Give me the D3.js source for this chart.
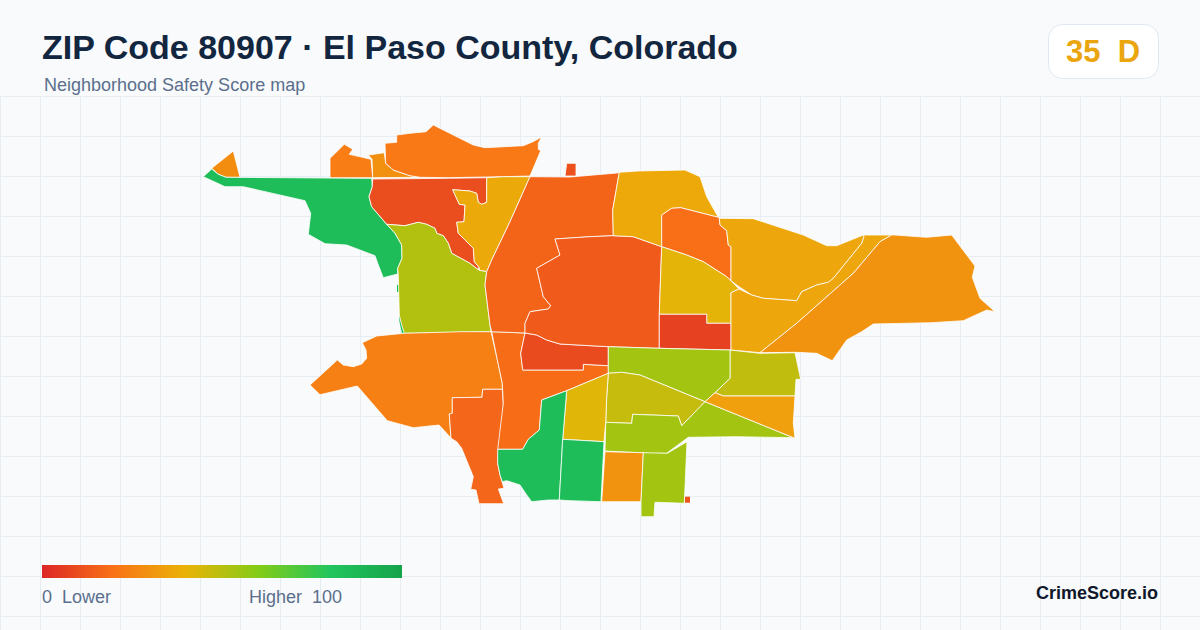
<!DOCTYPE html>
<html>
<head>
<meta charset="utf-8">
<script src="https://cdn.jsdelivr.net/npm/d3@7"></script>
<style>
  html, body { margin: 0; padding: 0; background: #f8fafc; }
  svg { display: block; font-family: "Liberation Sans", Arial, sans-serif; }
  text { white-space: pre; }
</style>
</head>
<body>
<svg id="chart" width="1200" height="630"></svg>
<script>
// score per tract, same order as tractRings
var tractScores = [28, 85, 85, 85, 23, 29, 22, 10.5, 37, 51, 24, 16.5, 18.5, 9.5, 16, 11, 13.5, 36.5, 19,
  41, 7, 36, 36, 30, 48, 54, 47, 54, 34, 42, 85, 85, 30, 54, 12];

// tract outlines in traced map units
var tractRings = [
  [[11.7,48.3],[33.3,31],[40,57.3],[26,57.3],[18.3,54.3]],
  [[3.3,56.7],[11.7,49],[18.3,54.3],[26,57.3],[171.7,58.3],[172.3,66.7],[169,76.7],[171.7,86.7],[186.7,104.3],[195,113.3],[201.7,125],[202,138.3],[197.7,148.3],[197.7,154],[183.3,157.7],[178.3,145],[175,135.7],[146.7,125],[125,123.7],[108.3,114.3],[110.7,93.3],[105,80.7],[43.3,66.7],[25,66.7]],
  [[197,165],[199,165],[199,172],[197,172]],
  [[199,194],[201.7,205],[204.3,213.3],[202,213.3],[199.5,202]],
  [[130,57.7],[130,38.3],[144.3,24.3],[152.7,29.3],[149.3,34.3],[171,39.3],[172.7,57.7]],
  [[168.3,35],[184.3,32.7],[185.7,43.3],[193.3,50],[210,55.7],[220,57.3],[172.7,57.7],[172,39.3]],
  [[185,23.3],[196.7,22.3],[196.7,15],[210,13.3],[226,11.7],[233.3,5],[273.3,25],[285,27.7],[323.3,25.7],[333,21.7],[341.7,17],[338.3,23.3],[338.3,29.3],[340.7,30.7],[330,56],[303.3,56.7],[248.3,57.7],[220,57.3],[210,55.7],[193.3,50],[185.7,43.3]],
  [[172.7,59],[248.3,58.3],[286.7,57.7],[286.7,82.3],[281.7,84.3],[278.3,82.3],[276.7,73.3],[270,71],[252.7,69.7],[259.3,84.3],[265,85],[264,101.7],[256.7,102.3],[258.3,113.3],[273.3,128.3],[274.3,141.7],[279.3,147.7],[277.3,149],[270,143.3],[251.7,133.3],[248.3,123.3],[243.3,115.7],[236.7,113.3],[235,108.3],[226.7,104.3],[218.3,102.3],[205,105.7],[186.7,104.3],[171.7,86.7],[169,76.7],[172.3,66.7]],
  [[286.7,57.7],[303.3,56.7],[330,56.7],[310,101.7],[291.7,140],[286.7,151.7],[279.3,150.3],[279.3,147.7],[274.3,141.7],[273.3,128.3],[258.3,113.3],[256.7,102.3],[264,101.7],[265,85],[259.3,84.3],[252.7,69.7],[270,71],[276.7,73.3],[278.3,82.3],[281.7,84.3],[286.7,82.3]],
  [[186.7,104.3],[205,105.7],[218.3,102.3],[226.7,104.3],[235,108.3],[236.7,113.3],[243.3,115.7],[248.3,123.3],[251.7,133.3],[270,143.3],[277.3,149],[279.3,150.3],[286.7,151.7],[285,165],[290,205],[291,211.7],[204.3,213.3],[201.7,205],[199.3,195],[198.3,155],[197.7,148.3],[202,138.3],[201.7,125],[195,113.3]],
  [[162.3,222.7],[176.7,216],[204.3,213.3],[261.7,211.7],[291,211.7],[296.7,236.7],[302.3,263.3],[302.3,269.3],[282.7,269.3],[282,277.3],[252.3,277.7],[252.3,293.3],[249.3,294],[251,318.3],[246.7,313.3],[239,305],[213.3,307.7],[187.3,300.7],[157.3,266],[120,274.7],[110,265],[137.3,240],[143.3,245],[153.3,246.7],[161.7,244],[166.7,238.3],[166,230]],
  [[252.3,277.7],[282,277.3],[282.7,269.3],[302.3,269.3],[303.3,283.3],[302.3,300],[298.3,328.3],[297.7,343.3],[300,355],[304,368.3],[298.3,369],[303.7,383.7],[279,383.7],[276,370],[270.7,369.3],[273.3,356.7],[261.7,328.3],[256.7,321.7],[251,318.3],[249.3,294],[252.3,293.3]],
  [[291.7,211.7],[325,213],[320.7,233.3],[322.7,250],[383.3,250],[383.3,244.3],[408.3,245.7],[408.3,253.3],[366.7,270.7],[341.7,280],[339.3,310],[328.3,319.3],[322.7,329.3],[297.7,329.3],[303.3,283.3],[302.3,263.3],[296.7,236.7]],
  [[325,213],[336.7,215],[346.7,220],[360,224],[408.3,226.7],[408.3,245.7],[383.3,244.3],[383.3,250],[322.7,250],[320.7,233.3]],
  [[330,56.7],[370,57],[417,53],[419.3,52.3],[412.7,90],[413.3,115.7],[390,116.7],[355,119],[360,135],[336.7,148.3],[343.3,176.7],[350.7,185.7],[348.3,189],[330,191.7],[325,203.3],[325,213],[291.7,211.7],[290,205],[285,165],[286.7,151.7],[291.7,140],[310,101.7]],
  [[366.7,43.3],[376,43.3],[376,56],[365,56]],
  [[355,119],[390,116.7],[413.3,115.7],[433.3,116.7],[461.7,126.7],[460,173],[459.3,194.3],[459.3,228.3],[408.3,226.7],[360,224],[346.7,220],[336.7,215],[325,213],[325,203.3],[330,191.7],[348.3,189],[350.7,185.7],[343.3,176.7],[336.7,148.3],[360,135]],
  [[419.3,52.3],[438.3,51],[485,50],[500,56.7],[506.7,76.7],[518.3,97.3],[480.7,87.7],[471.7,88.3],[461.7,95],[461.7,126.7],[433.3,116.7],[413.3,115.7],[412.7,90]],
  [[461.7,95],[471.7,88.3],[480.7,87.7],[518.3,97.3],[519.3,98.3],[520,105],[526.7,110.7],[528.3,125],[531,126.7],[531,160.7],[526.7,156.7],[503.3,141.7],[486.7,135],[461.7,126.7]],
  [[461.7,126.7],[486.7,135],[503.3,141.7],[526.7,156.7],[531,160.7],[539,169],[531,172.7],[531,203.3],[506.7,203.3],[506.7,194.3],[459.3,194.3],[460,173]],
  [[459.3,194.3],[506.7,194.3],[506.7,203.3],[531,203.3],[531,230],[459.3,228.3]],
  [[519.3,98.3],[553.3,98.7],[603.3,115],[626.7,125.7],[636.7,125.7],[663.3,115],[664,116.7],[661.7,123.3],[633.3,158.3],[628.3,162.3],[616.7,165],[601.7,171.7],[596.7,180.7],[563.3,178.3],[551.7,175],[539,166.7],[531,160.7],[531,126.7],[528.3,125],[526.7,110.7],[520,105]],
  [[531,172.7],[539,169],[551.7,175],[563.3,178.3],[596.7,180.7],[601.7,171.7],[616.7,165],[628.3,162.3],[633.3,158.3],[661.7,123.3],[664,116.7],[663.3,115],[691.7,115],[680,121.7],[653.3,153.3],[596.7,203.3],[560,232.7],[531,230],[531,203.3]],
  [[691.7,115],[695,115],[726.7,117.3],[751.7,115],[775,146],[772.3,157.3],[780,178.3],[795,191.7],[786.7,190],[763.3,200.7],[731.7,202.7],[673.3,204],[661.7,211.7],[646.7,220],[632.3,240.7],[616.7,233.3],[595,232.3],[560,232.7],[596.7,203.3],[653.3,153.3],[680,121.7]],
  [[530,230],[560,233.3],[595,232.7],[600.7,259.3],[596,259.3],[595,276],[523.3,276],[515,272.7],[530,258.3]],
  [[408.3,226.7],[459.3,228.3],[530,230],[530,258.3],[515,272.7],[505,281.7],[440,255],[421.7,252.3],[408.3,253.3]],
  [[408.3,253.3],[421.7,252.3],[440,255],[505,281.7],[481.7,305.7],[478.3,296],[432.7,294.3],[431.7,303.3],[405.7,302.3],[406.7,276.7]],
  [[405.7,302.3],[431.7,303.3],[432.7,294.3],[478.3,296],[481.7,305.7],[505,281.7],[595,318.3],[593.3,317.7],[536.7,316.7],[488.3,317.3],[466.7,333.3],[450,333.3],[405,331]],
  [[515,272.7],[523.3,276],[595,276],[593.3,303.3],[595,318.3],[505,281.7]],
  [[408.3,253.3],[406.7,276.7],[405.7,302.3],[404,321.7],[362.7,319.3],[366.7,270.7]],
  [[341.7,280],[366.7,270.7],[362.7,319.3],[359.3,380],[348.3,380],[331.7,381.7],[326.7,375],[320,365],[306.7,360.7],[302.3,361.7],[300,355],[297.7,343.3],[297.7,329.3],[322.7,329.3],[328.3,319.3],[339.3,310]],
  [[362.7,319.3],[404,321.7],[401,381.7],[370,380.7],[359.3,380]],
  [[405,331.7],[443.3,332.7],[441,381.7],[401.7,381.7]],
  [[443.3,332.7],[467.3,333.3],[487,321.7],[484.3,383.3],[455,382.3],[454,396.7],[441,396.7],[441,381.7]],
  [[485,376.7],[490,376.7],[490,382.7],[485,382.7]]
];

var legendStops = [0, 20, 40, 60, 80, 100];
var legendColors = ['#dc2626', '#f97316', '#eab308', '#84cc16', '#22c55e', '#16a34a'];

var titleText = 'ZIP Code 80907 \u00b7 El Paso County, Colorado';
var subtitleText = 'Neighborhood Safety Score map';
var badgeScore = 35;
var badgeGrade = 'D';
var badgeColor = '#eaa50f';

var svg = d3.select('#chart');
var color = d3.scaleLinear().domain(legendStops).range(legendColors);

// background grid
var grid = svg.append('g').attr('stroke', '#e6edf3').attr('stroke-width', 1);
grid.selectAll('.gx').data(d3.range(0, 1200, 40)).enter().append('line')
  .attr('x1', d => d + 0.5).attr('x2', d => d + 0.5).attr('y1', 96).attr('y2', 630);
grid.selectAll('.gy').data(d3.range(96, 630, 40)).enter().append('line')
  .attr('x1', 0).attr('x2', 1200).attr('y1', d => d + 0.5).attr('y2', d => d + 0.5);

// map
var features = tractRings.map((ring, i) => ({
  type: 'Feature',
  properties: { score: tractScores[i] },
  geometry: { type: 'Polygon', coordinates: [ring.concat([ring[0]])] }
}));
var proj = d3.geoIdentity().fitExtent([[203.3, 125], [995, 516.7]], { type: 'FeatureCollection', features: features });
var path = d3.geoPath().projection(proj);

svg.append('g').selectAll('path')
  .data(features)
  .enter().append('path')
  .attr('d', path)
  .attr('fill', d => color(d.properties.score))
  // the tiniest pieces would vanish under the outline
  .attr('stroke', d => path.area(d) < 50 ? 'none' : '#fff')
  .attr('stroke-width', 0.8)
  .attr('stroke-linejoin', 'round');

// header
svg.append('text').attr('x', 42).attr('y', 59)
  .attr('font-size', 34).attr('font-weight', 700).attr('fill', '#12263f').text(titleText);
svg.append('text').attr('x', 44).attr('y', 91)
  .attr('font-size', 18).attr('fill', '#5b6f8c').text(subtitleText);

svg.append('rect').attr('x', 1048.5).attr('y', 24.5).attr('width', 110).attr('height', 54).attr('rx', 14)
  .attr('fill', '#fff').attr('stroke', '#e2e8f0');
svg.append('text').attr('x', 1103).attr('y', 62).attr('text-anchor', 'middle')
  .attr('font-size', 31).attr('font-weight', 700).attr('fill', badgeColor)
  .text(badgeScore + '  ' + badgeGrade);

// legend
var grad = svg.append('defs').append('linearGradient').attr('id', 'legendGrad');
grad.selectAll('stop').data(legendStops).enter().append('stop')
  .attr('offset', d => d + '%').attr('stop-color', d => color(d));
svg.append('rect').attr('x', 42).attr('y', 565).attr('width', 360).attr('height', 13).attr('fill', 'url(#legendGrad)');
svg.append('text').attr('x', 42).attr('y', 603).attr('font-size', 18).attr('fill', '#5b6f8c').text('0  Lower');
svg.append('text').attr('x', 342).attr('y', 603).attr('text-anchor', 'end').attr('font-size', 18).attr('fill', '#5b6f8c').text('Higher  100');

svg.append('text').attr('x', 1158).attr('y', 599).attr('text-anchor', 'end')
  .attr('font-size', 18).attr('font-weight', 700).attr('fill', '#0f172a').text('CrimeScore.io');
</script>
</body>
</html>
